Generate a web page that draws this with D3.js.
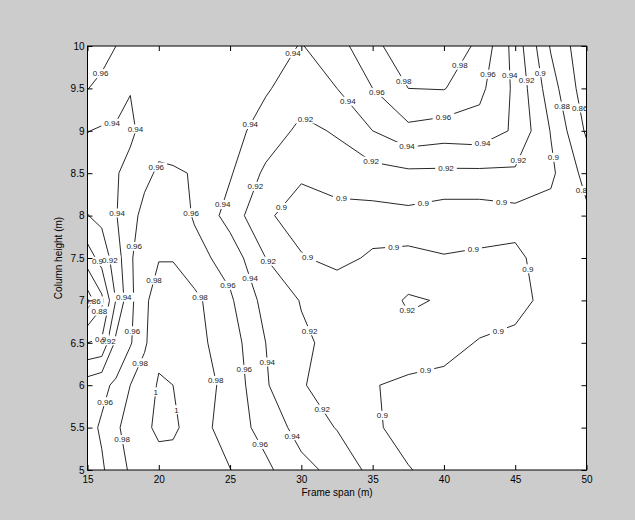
<!DOCTYPE html>
<html>
<head>
<meta charset="utf-8">
<script src="https://cdnjs.cloudflare.com/ajax/libs/d3/7.8.5/d3.min.js"></script>
<style>
  html, body { margin: 0; padding: 0; background: #cccccc; }
  svg { display: block; }
  text { font-family: "Liberation Sans", Arial, Helvetica, sans-serif; }
</style>
</head>
<body>
<svg id="chart" width="635" height="520"></svg>
<script>
// grid columns (frame span, m) and rows (column height, m), top row first
const spanGrid = [15, 16, 17, 18, 19, 20, 21, 22.5, 25, 27.5, 30, 32.5, 35, 37.5, 40, 42.5, 45, 47.5, 50];
const heightGrid = [10, 9.5, 9, 8.5, 8, 7.5, 7, 6.5, 6, 5.5, 5];

// values, one array per row
const zAt10_0 = [0.970, 0.968, 0.960, 0.952, 0.955, 0.950, 0.948, 0.946, 0.945, 0.948, 0.939, 0.952, 0.975, 0.992, 0.993, 0.976, 0.932, 0.878, 0.845];
const zAt9_5  = [0.9605, 0.955, 0.948, 0.941, 0.945, 0.950, 0.948, 0.946, 0.947, 0.942, 0.930, 0.940, 0.960, 0.980, 0.981, 0.965, 0.936, 0.889, 0.848];
const zAt9_0  = [0.9405, 0.938, 0.938, 0.935, 0.948, 0.952, 0.951, 0.950, 0.947, 0.932, 0.915, 0.922, 0.940, 0.955, 0.950, 0.952, 0.937, 0.899, 0.857];
const zAt8_5  = [0.930, 0.932, 0.938, 0.948, 0.955, 0.963, 0.962, 0.959, 0.942, 0.916, 0.902, 0.910, 0.913, 0.916, 0.916, 0.916, 0.917, 0.904, 0.873];
const zAt8_0  = [0.9195, 0.925, 0.939, 0.953, 0.966, 0.972, 0.972, 0.958, 0.932, 0.902, 0.894, 0.893, 0.893, 0.895, 0.890, 0.890, 0.893, 0.893, 0.884];
const zAt7_5  = [0.890, 0.908, 0.930, 0.957, 0.974, 0.979, 0.979, 0.967, 0.952, 0.920, 0.901, 0.896, 0.902, 0.902, 0.901, 0.903, 0.904, 0.891, 0.887];
const zAt7_0  = [0.850, 0.875, 0.921, 0.955, 0.976, 0.990, 0.990, 0.985, 0.963, 0.933, 0.919, 0.910, 0.906, 0.923, 0.918, 0.908, 0.904, 0.896, 0.888];
const zAt6_5  = [0.900, 0.903, 0.945, 0.958, 0.977, 0.995, 0.990, 0.986, 0.970, 0.940, 0.923, 0.915, 0.904, 0.912, 0.905, 0.899, 0.897, 0.891, 0.889];
const zAt6_0  = [0.950, 0.956, 0.963, 0.980, 0.990, 1.002, 1.000, 0.990, 0.974, 0.942, 0.921, 0.914, 0.901, 0.896, 0.896, 0.894, 0.893, 0.890, 0.889];
const zAt5_5  = [0.955, 0.962, 0.978, 0.985, 0.995, 1.005, 1.004, 0.990, 0.970, 0.953, 0.932, 0.919, 0.903, 0.893, 0.892, 0.892, 0.892, 0.890, 0.889];
const zAt5_0  = [0.955, 0.958, 0.968, 0.983, 0.988, 0.990, 0.990, 0.985, 0.9805, 0.964, 0.946, 0.934, 0.914, 0.901, 0.893, 0.892, 0.892, 0.890, 0.889];

const contourLevels = [0.86, 0.88, 0.9, 0.92, 0.94, 0.96, 0.98, 1];
const xTickValues = [15, 20, 25, 30, 35, 40, 45, 50];
const yTickValues = [5, 5.5, 6, 6.5, 7, 7.5, 8, 8.5, 9, 9.5, 10];

// where the inline labels sit: [level, span, height]
const labelSpots = [
  [0.96, 15.95, 9.67], [0.94, 16.58, 9.19], [0.94, 18.26, 9.02], [0.96, 19.73, 8.58],
  [0.94, 17.21, 8.03], [0.96, 18.12, 7.64], [0.98, 19.24, 7.26], [0.9, 15.88, 7.48],
  [0.92, 16.72, 7.48], [0.94, 17.7, 7.04], [0.86, 15.5, 6.98], [0.88, 16.16, 6.83],
  [0.9, 15.95, 6.53], [0.92, 16.86, 6.51], [0.96, 18.4, 6.64], [0.98, 18.75, 6.26],
  [0.96, 15.53, 5.84], [0.98, 17.14, 5.35], [1, 19.87, 5.92], [1, 21.21, 5.71],
  [0.98, 22.96, 7.05], [0.96, 22.05, 8.03], [0.94, 24.15, 8.15], [0.96, 24.78, 7.17],
  [0.98, 23.8, 6.05], [0.96, 25.56, 6.18], [0.96, 26.75, 5.27], [0.94, 26.4, 7.26],
  [0.94, 27.38, 6.27], [0.94, 29.2, 5.39], [0.92, 27.66, 7.46], [0.92, 26.54, 8.36],
  [0.92, 30.4, 6.63], [0.92, 31.03, 5.67], [0.9, 35.37, 5.64], [0.9, 28.29, 8.14],
  [0.9, 30.1, 7.44], [0.9, 32.85, 8.28], [0.9, 36.5, 7.58], [0.9, 38.46, 8.24],
  [0.9, 42.11, 7.56], [0.9, 44.07, 8.21], [0.9, 46.53, 7.39], [0.9, 43.79, 6.65],
  [0.9, 38.6, 6.26], [0.92, 37.48, 6.89], [0.94, 29.34, 9.92], [0.94, 26.47, 9.07],
  [0.92, 30.12, 9.09], [0.94, 33.13, 9.33], [0.92, 34.6, 8.57], [0.96, 35.17, 9.43],
  [0.98, 37.06, 9.58], [0.94, 37.48, 8.84], [0.96, 39.94, 9.19], [0.92, 40.15, 8.61],
  [0.98, 41.77, 9.71], [0.96, 43.37, 9.66], [0.94, 44.63, 9.66], [0.92, 45.69, 9.59],
  [0.9, 46.53, 9.68], [0.94, 42.6, 8.89], [0.92, 45.62, 8.63], [0.9, 47.79, 8.69],
  [0.88, 47.93, 9.28], [0.86, 49.26, 9.26], [0.88, 49.68, 8.29]
];

const ratioRows = [zAt10_0, zAt9_5, zAt9_0, zAt8_5, zAt8_0, zAt7_5, zAt7_0, zAt6_5, zAt6_0, zAt5_5, zAt5_0];

const plotLeft = 87.5, plotRight = 586.5, plotTop = 46, plotBottom = 470;
const svg = d3.select('#chart');

svg.append('rect').attr('width', 635).attr('height', 520).attr('fill', '#cccccc');

const x = d3.scaleLinear().domain([15, 50]).range([plotLeft, plotRight]);
const y = d3.scaleLinear().domain([5, 10]).range([plotBottom, plotTop]);

// grid index space -> data (sample i sits at i + 0.5 in d3.contours output)
const colToSpan = d3.scaleLinear().domain(spanGrid.map((d, i) => i + 0.5)).range(spanGrid);
const rowToHeight = d3.scaleLinear().domain(heightGrid.map((d, i) => i + 0.5)).range(heightGrid);

svg.append('defs').append('clipPath').attr('id', 'plot-clip')
  .append('rect').attr('x', plotLeft).attr('y', plotTop)
  .attr('width', plotRight - plotLeft).attr('height', plotBottom - plotTop);

svg.append('rect')
  .attr('x', plotLeft).attr('y', plotTop)
  .attr('width', plotRight - plotLeft).attr('height', plotBottom - plotTop)
  .attr('fill', '#ffffff');

const nx = spanGrid.length;
const ny = heightGrid.length;
const values = ratioRows.flat();
const contours = d3.contours().size([nx, ny]).thresholds(contourLevels)(values);

const ringsByLevel = new Map();
contours.forEach(function (c) {
  const rings = [];
  c.coordinates.forEach(function (poly) {
    poly.forEach(function (ring) {
      rings.push(ring.map(function (p) { return [x(colToSpan(p[0])), y(rowToHeight(p[1]))]; }));
    });
  });
  ringsByLevel.set(c.value, rings);
});

const lineGen = d3.line();
const lineLayer = svg.append('g').attr('clip-path', 'url(#plot-clip)')
  .attr('fill', 'none').attr('stroke', '#000').attr('stroke-width', 0.85);

ringsByLevel.forEach(function (rings) {
  rings.forEach(function (ring) {
    lineLayer.append('path').attr('d', lineGen(ring) + 'Z');
  });
});

function nearestOnSegment(px, py, a, b) {
  const dx = b[0] - a[0], dy = b[1] - a[1];
  const len2 = dx * dx + dy * dy;
  let t = len2 ? ((px - a[0]) * dx + (py - a[1]) * dy) / len2 : 0;
  t = Math.max(0, Math.min(1, t));
  const qx = a[0] + t * dx, qy = a[1] + t * dy;
  return { x: qx, y: qy, d: Math.hypot(px - qx, py - qy) };
}

const labelLayer = svg.append('g').attr('clip-path', 'url(#plot-clip)');
const gapLayer = labelLayer.append('g');
const textLayer = labelLayer.append('g');

labelSpots.forEach(function (spot) {
  const level = spot[0];
  const px = x(spot[1]), py = y(spot[2]);
  const rings = ringsByLevel.get(level) || [];
  let best = null, bestD = 22;
  rings.forEach(function (ring) {
    for (let i = 1; i < ring.length; i += 1) {
      const q = nearestOnSegment(px, py, ring[i - 1], ring[i]);
      if (q.x < plotLeft + 2 || q.x > plotRight - 2 || q.y < plotTop + 2 || q.y > plotBottom - 2) continue;
      if (q.d < bestD) { bestD = q.d; best = q; }
    }
  });
  const at = best ? [best.x, best.y] : [px, py];
  const t = textLayer.append('text')
    .attr('x', at[0]).attr('y', at[1])
    .attr('dy', '0.36em')
    .attr('text-anchor', 'middle')
    .attr('font-size', 8)
    .attr('fill', '#222')
    .text(String(level));
  const w = t.node().getComputedTextLength();
  gapLayer.append('rect')
    .attr('x', at[0] - w / 2 - 3).attr('y', at[1] - 4.5)
    .attr('width', w + 6).attr('height', 9)
    .attr('fill', '#ffffff');
});

// axes: ticks inward on all four sides, MATLAB box style
const axisB = d3.axisBottom(x).tickValues(xTickValues).tickSizeInner(-5).tickSizeOuter(0).tickPadding(6);
const axisT = d3.axisTop(x).tickValues(xTickValues).tickSizeInner(-5).tickSizeOuter(0).tickFormat('');
const axisL = d3.axisLeft(y).tickValues(yTickValues).tickSizeInner(-5).tickSizeOuter(0).tickPadding(3)
  .tickFormat(d3.format('~g'));
const axisR = d3.axisRight(y).tickValues(yTickValues).tickSizeInner(-5).tickSizeOuter(0).tickFormat('');

function styleAxis(g) {
  g.select('.domain').remove();
  g.selectAll('.tick line').attr('stroke', '#000');
  g.selectAll('.tick text').attr('fill', '#000').attr('font-size', 10)
    .attr('font-family', '"Liberation Sans", Arial, sans-serif');
}

svg.append('g').attr('transform', 'translate(0,' + plotBottom + ')').call(axisB).call(styleAxis);
svg.append('g').attr('transform', 'translate(0,' + plotTop + ')').call(axisT).call(styleAxis);
svg.append('g').attr('transform', 'translate(' + plotLeft + ',0)').call(axisL).call(styleAxis);
svg.append('g').attr('transform', 'translate(' + plotRight + ',0)').call(axisR).call(styleAxis);

svg.append('rect')
  .attr('x', plotLeft).attr('y', plotTop)
  .attr('width', plotRight - plotLeft).attr('height', plotBottom - plotTop)
  .attr('fill', 'none').attr('stroke', '#000').attr('stroke-width', 1);

svg.append('text')
  .attr('x', (plotLeft + plotRight) / 2).attr('y', 496)
  .attr('text-anchor', 'middle').attr('font-size', 10).attr('fill', '#000')
  .text('Frame span (m)');

svg.append('text')
  .attr('transform', 'translate(62,' + ((plotTop + plotBottom) / 2) + ') rotate(-90)')
  .attr('text-anchor', 'middle').attr('font-size', 10).attr('fill', '#000')
  .text('Column height (m)');
</script>
</body>
</html>
